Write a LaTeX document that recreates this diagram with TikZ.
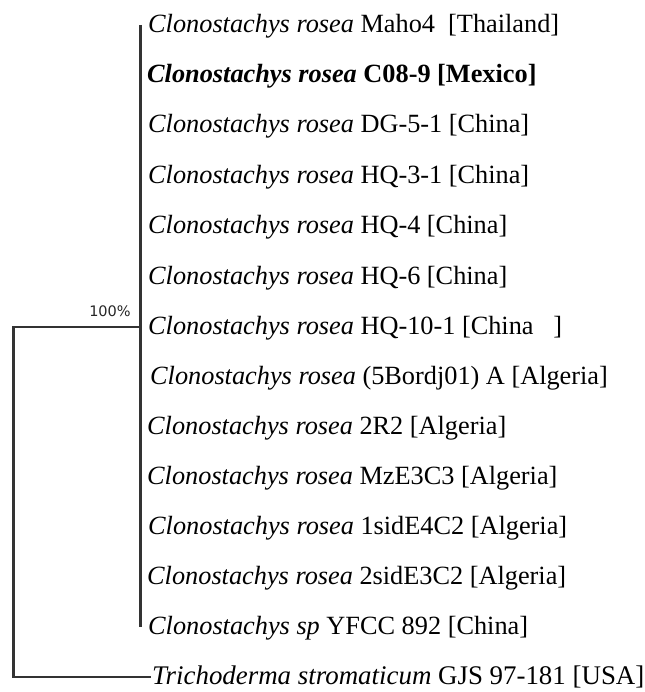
\documentclass[tikz,border=0pt]{standalone}
\usepackage{fontspec}
\setmainfont{Liberation Serif}
\newfontfamily\labelsans{DejaVu Sans}
\begin{document}
\begin{tikzpicture}[x=1pt,y=-1pt,
  leaf/.style={anchor=base west,inner sep=0pt,font=\fontsize{26.3}{30}\selectfont,text=black},
  branch/.style={line width=2.2pt,draw=black!80},
  support/.style={anchor=center,inner sep=0pt,font=\labelsans\fontsize{14.5}{16}\selectfont,text=black!85}]
\useasboundingbox (0,0) rectangle (644,692);
\node[leaf] (l1)  at (148,33)  {\textit{Clonostachys rosea} Maho4\ \ [Thailand]};
\node[leaf] (l2)  at (147,83)  {\textbf{\textit{Clonostachys rosea} C08-9 [Mexico]}};
\node[leaf] (l3)  at (148,133) {\textit{Clonostachys rosea} DG-5-1 [China]};
\node[leaf] (l4)  at (148,184) {\textit{Clonostachys rosea} HQ-3-1 [China]};
\node[leaf] (l5)  at (148,234) {\textit{Clonostachys rosea} HQ-4 [China]};
\node[leaf] (l6)  at (148,284) {\textit{Clonostachys rosea} HQ-6 [China]};
\node[leaf] (l7)  at (148,334) {\textit{Clonostachys rosea} HQ-10-1 [China\ \ \ ]};
\node[leaf] (l8)  at (150,384) {\textit{Clonostachys rosea} (5Bordj01) A [Algeria]};
\node[leaf] (l9)  at (147,434) {\textit{Clonostachys rosea} 2R2 [Algeria]};
\node[leaf] (l10) at (147,484) {\textit{Clonostachys rosea} MzE3C3 [Algeria]};
\node[leaf] (l11) at (148,534) {\textit{Clonostachys rosea} 1sidE4C2 [Algeria]};
\node[leaf] (l12) at (147,584) {\textit{Clonostachys rosea} 2sidE3C2 [Algeria]};
\node[leaf] (l13) at (148,634) {\textit{Clonostachys sp} YFCC 892 [China]};
\node[leaf,font=\fontsize{26.9}{30}\selectfont] (tri) at (152,684) {\textit{Trichoderma stromaticum} GJS 97-181 [USA]};
\coordinate (top) at (140.5,25);
\coordinate (bot) at (140.5,627);
\coordinate (clade) at (140.5,327);
\coordinate (root) at (13.5,327);
\coordinate (rootb) at (13.5,677);
\coordinate (trib) at (151,677);
\node[support] (s) at (110,311) {100\%};
\draw[branch] (top) -- (bot);
\draw[branch] (clade) -- (root) -- (rootb) -- (trib);
\end{tikzpicture}
\end{document}
